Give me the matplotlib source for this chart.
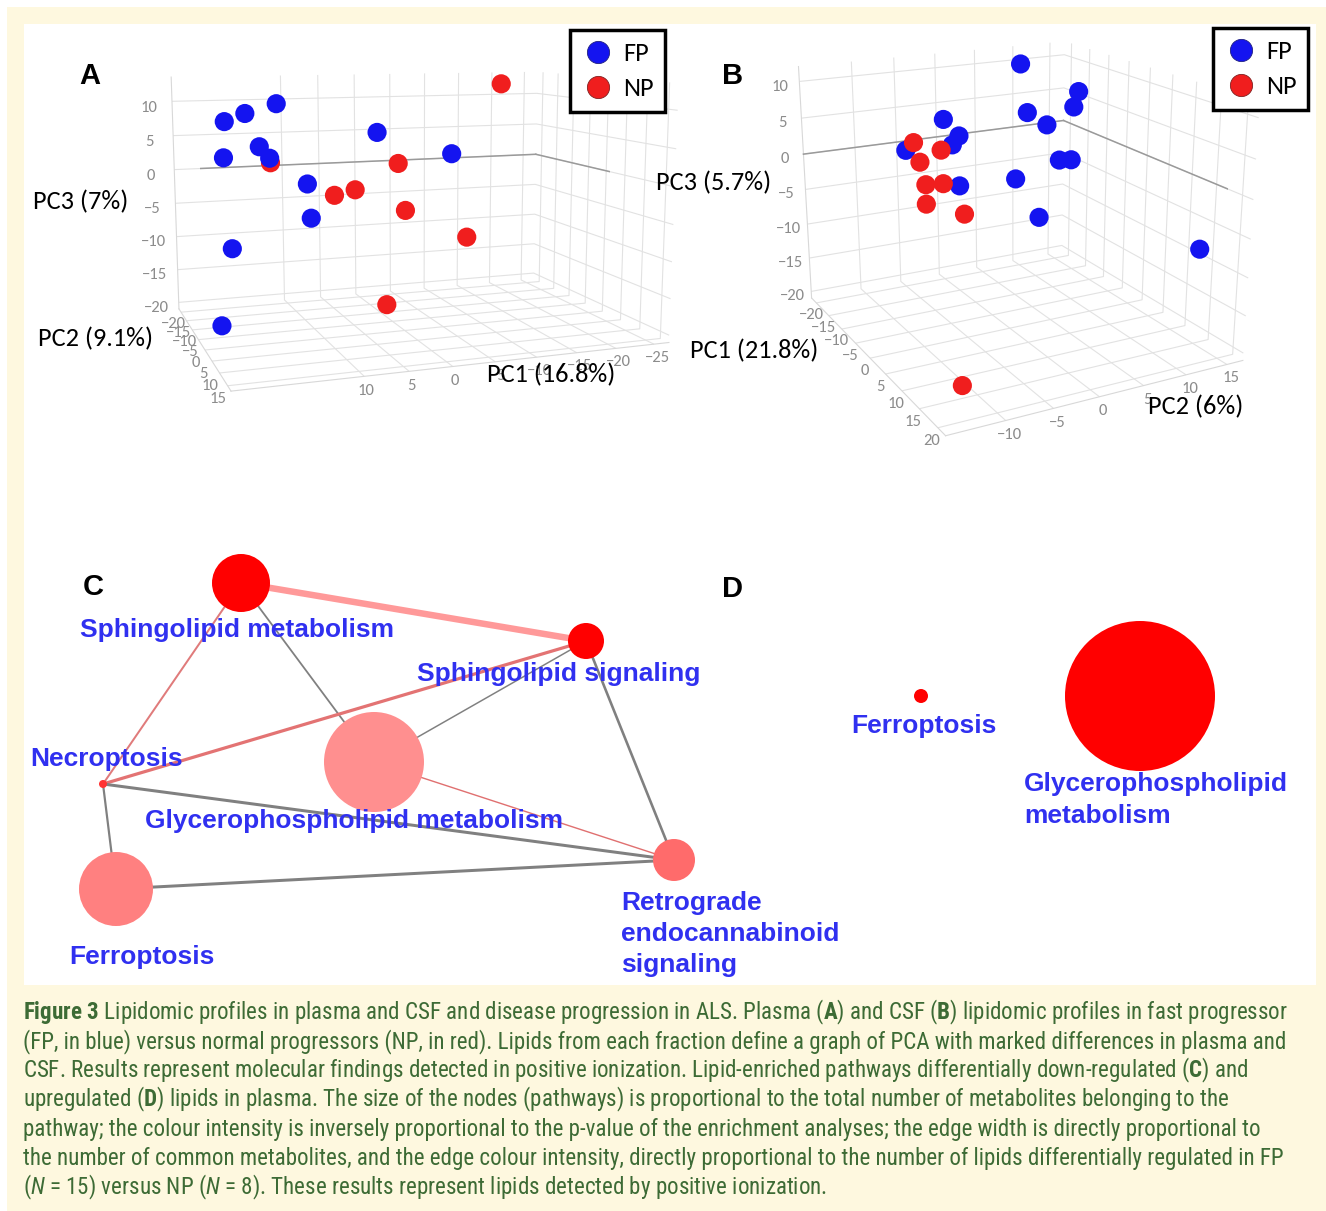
"""
Figure 3 re-draw: plasma / CSF lipidomic PCA (A, B) and enriched-pathway
networks (C, D) with the caption underneath.
"""
import matplotlib as mpl
import matplotlib.pyplot as plt
import numpy as np
from matplotlib import font_manager
from matplotlib.lines import Line2D
from matplotlib.patches import Circle, Rectangle

W, H = 1326, 1211
DPI = 100

BLUE = "#1414f0"
RED = "#f01e1e"
YELLOW = "#fef8df"
LABEL_BLUE = "#3030f0"
CAPTION_GREEN = "#3d6b35"

# ---------------- panel A: plasma PCA (PC1, PC2, PC3) ----------------
a_fp_pc1 = [20.3, 17.9, 14.2, 20.5, 16.3, 15.1, 11.8, 11.4, 1.9, -7.8, 20.6, 20.4]
a_fp_pc2 = [-5, -5, -5, -5, -5, -5, 0, 0, -5, -5, 0, -10]
a_fp_pc3 = [8.3, 9.3, 10.5, 3.5, 4.8, 3.2, 0.2, -4.4, 6.2, 2.8, -7.8, -20.8]
a_np_pc1 = [-14.4, 14.4, 8.6, 6.1, 0.8, -0.1, -8.0, 3.8]
a_np_pc2 = [-5, -8, 0, 0, 0, 0, 0, 5]
a_np_pc3 = [12.6, 2.2, -1.5, -0.9, 2.4, -4.1, -8.4, -15.7]

# ---------------- panel B: CSF PCA (PC1, PC2, PC3) ----------------
b_fp_pc1 = [-10, -10, -10, -5, -5, -10, -10, -10, -10, -5, -5, 0, 0, 0, 15]
b_fp_pc2 = [5.7, 13.1, 12.5, 4.3, 6.7, -3.6, -1.8, -2.6, -8.0, 8.3, 9.8, -5.7, 0.7, 3.5, 15.3]
b_fp_pc3 = [12.0, 7.3, 5.2, 6.6, 4.6, 5.7, 3.2, 2.1, 2.2, -0.5, -0.7, -0.3, -0.5, -6.2, -8.2]
b_np_pc1 = [-10, -5, -5, 0, 0, 0, 0, 21]
b_np_pc2 = [-7.1, -5.8, -8.2, -9.4, -7.5, -9.4, -5.2, -13.9]
b_np_pc3 = [3.1, 3.1, 1.9, 0.5, 0.3, -2.0, -4.1, -16.0]

# ---------------- panel C: down-regulated pathway network ----------------
c_names = ["Sphingolipid metabolism", "Sphingolipid signaling",
           "Glycerophospholipid metabolism", "Necroptosis", "Ferroptosis",
           "Retrograde\nendocannabinoid\nsignaling"]
c_x = [241, 586, 374, 103, 116, 674]
c_y = [583, 641, 762, 784, 889, 860]
c_radius = [29, 18, 50, 4, 37, 21]
c_color = ["#ff0000", "#ff0000", "#ff8f8f", "#ff3333", "#ff8080", "#ff6b6b"]
c_label_x = [80, 417, 145, 30, 69, 621]
c_label_y = [630, 674, 821, 759, 957, 934]
c_edges = [(0, 1), (0, 3), (0, 2), (1, 3), (1, 2), (1, 5), (2, 5), (3, 5), (3, 4), (4, 5)]
c_edge_width = [6.5, 2.0, 1.8, 3.2, 1.5, 2.6, 1.4, 3.0, 2.2, 3.0]
c_edge_color = ["#ff9999", "#e07b7b", "#808080", "#e37373", "#808080",
                "#808080", "#e07070", "#808080", "#808080", "#808080"]

# ---------------- panel D: up-regulated pathways ----------------
d_names = ["Ferroptosis", "Glycerophospholipid\nmetabolism"]
d_x = [921, 1140]
d_y = [696, 696]
d_radius = [7, 75]
d_color = ["#ff0000", "#ff0000"]
d_label_x = [851, 1024]
d_label_y = [726, 800]

caption_lines = [
    r"$\mathbf{Figure\ 3}$ Lipidomic profiles in plasma and CSF and disease progression in ALS. Plasma ($\mathbf{A}$) and CSF ($\mathbf{B}$) lipidomic profiles in fast progressor",
    "(FP, in blue) versus normal progressors (NP, in red). Lipids from each fraction define a graph of PCA with marked differences in plasma and",
    r"CSF. Results represent molecular findings detected in positive ionization. Lipid-enriched pathways differentially down-regulated ($\mathbf{C}$) and",
    r"upregulated ($\mathbf{D}$) lipids in plasma. The size of the nodes (pathways) is proportional to the total number of metabolites belonging to the",
    "pathway; the colour intensity is inversely proportional to the p-value of the enrichment analyses; the edge width is directly proportional to",
    "the number of common metabolites, and the edge colour intensity, directly proportional to the number of lipids differentially regulated in FP",
    r"($N$ = 15) versus NP ($N$ = 8). These results represent lipids detected by positive ionization.",
]


def pick_font(cands):
    have = {f.name for f in font_manager.fontManager.ttflist}
    for c in cands:
        if c in have:
            return c
    return "DejaVu Sans"


ARIAL = pick_font(["Liberation Sans", "Arial", "DejaVu Sans"])
PLOTLY = pick_font(["Carlito", "Open Sans", "Lato", "DejaVu Sans"])
CAPTION = pick_font(["Liberation Sans Narrow", "Roboto Condensed", "Open Sans Condensed",
                     "Noto Sans Condensed", "Lato", "Liberation Sans"])

mpl.rcParams["mathtext.fontset"] = "custom"
mpl.rcParams["mathtext.rm"] = CAPTION
mpl.rcParams["mathtext.bf"] = CAPTION + ":bold"
mpl.rcParams["mathtext.it"] = CAPTION + ":italic"
mpl.rcParams["grid.color"] = "#e2e2e2"
mpl.rcParams["grid.linewidth"] = 0.8


def fbox(x0, y0, x1, y1):
    # pixel box (top-left origin) -> figure fraction rect
    return [x0 / W, 1 - y1 / H, (x1 - x0) / W, (y1 - y0) / H]


def fxy(x, y):
    return x / W, 1 - y / H


fig = plt.figure(figsize=(W / DPI, H / DPI), dpi=DPI, facecolor="white")
fig.patches.append(Rectangle((7 / W, 0), 1 - 7 / W, 1 - 7 / H, transform=fig.transFigure,
                             facecolor=YELLOW, edgecolor="none", zorder=-3))
x0, y0, w0, h0 = fbox(24, 24, 1316, 985)
fig.patches.append(Rectangle((x0, y0), w0, h0, transform=fig.transFigure,
                             facecolor="white", edgecolor="none", zorder=-2))


def pca_panel(rect, fp, nps, lims, ticks, view, aspect, zoom, zside="default", focal=1.0):
    ax = fig.add_axes(rect, projection="3d")
    ax.set_facecolor("none")
    ax.patch.set_alpha(0)
    ax.set_proj_type("persp", focal_length=focal)
    for axis in (ax.xaxis, ax.yaxis, ax.zaxis):
        axis.set_pane_color((1, 1, 1, 0))
        axis.pane.set_edgecolor("#e2e2e2")
        axis.line.set_color("#d8d8d8")
        axis._axinfo["tick"]["inward_factor"] = 0.0
        axis._axinfo["tick"]["outward_factor"] = 0.0
    for pts, col in [(fp, BLUE), (nps, RED)]:
        sc = ax.scatter(*pts, s=190, c=col, depthshade=False, edgecolors="none")
        sc.set_clip_on(False)
    ax.set_xticks(ticks[0])
    ax.set_yticks(ticks[1])
    ax.set_zticks(ticks[2])
    for a in "xyz":
        ax.tick_params(axis=a, colors="#8c8c8c", labelsize=12, pad=-5 if a != "z" else 0)
    for lab in ax.get_xticklabels() + ax.get_yticklabels() + ax.get_zticklabels():
        lab.set_fontfamily(PLOTLY)
    ax.zaxis.set_ticks_position(zside)
    ax.view_init(elev=view[0], azim=view[1])
    ax.set_box_aspect(aspect, zoom=zoom)
    # darker zero line of PC3 on the two back walls
    az = np.radians(view[1])
    bx = lims[0][0] if np.cos(az) > 0 else lims[0][1]
    by = lims[1][0] if np.sin(az) > 0 else lims[1][1]
    ax.plot(lims[0], [by, by], [0, 0], color="#9a9a9a", lw=1.1, zorder=0)
    ax.plot([bx, bx], lims[1], [0, 0], color="#9a9a9a", lw=1.1, zorder=0)
    ax.set_xlim(*lims[0])
    ax.set_ylim(*lims[1])
    ax.set_zlim(*lims[2])
    return ax


pca_panel(fbox(107, 5, 702, 415),
          (a_fp_pc1, a_fp_pc2, a_fp_pc3), (a_np_pc1, a_np_pc2, a_np_pc3),
          [(-27, 24), (-22, 17), (-21, 13.5)],
          [range(-25, 15, 5), range(-20, 20, 5), range(-20, 15, 5)],
          (9, 70), (1.45, 1.0, 0.85), 1.35, focal=0.5)

pca_panel(fbox(723, -5, 1293, 435),
          (b_fp_pc1, b_fp_pc2, b_fp_pc3), (b_np_pc1, b_np_pc2, b_np_pc3),
          [(-22, 22), (-16, 17), (-21, 12)],
          [range(-20, 25, 5), range(-10, 20, 5), range(-20, 15, 5)],
          (18, -28), (1.1, 1.0, 0.81), 1.185, zside="lower", focal=0.5)

# axis titles of the PCA panels
pca_titles = [("PC3 (7%)", 33, 202), ("PC2 (9.1%)", 38, 339), ("PC1 (16.8%)", 487, 375),
              ("PC3 (5.7%)", 656, 183), ("PC1 (21.8%)", 690, 351), ("PC2 (6%)", 1148, 407)]
for txt, px, py in pca_titles:
    fig.text(*fxy(px, py), txt, ha="left", va="center", fontsize=19, family=PLOTLY, color="black")

# legends
handles = [Line2D([], [], ls="none", marker="o", ms=16, mfc=BLUE, mec="#202080", mew=0.6),
           Line2D([], [], ls="none", marker="o", ms=16, mfc=RED, mec="#802020", mew=0.6)]
for lx, ly in [(570, 30), (1213, 28)]:
    leg = fig.legend(handles, ["FP", "NP"], loc="upper left", bbox_to_anchor=fxy(lx, ly),
                     frameon=True, fancybox=False, edgecolor="black", framealpha=1,
                     prop={"family": PLOTLY, "size": 19}, handletextpad=0.35,
                     borderpad=0.45, labelspacing=0.45, handlelength=1.2, borderaxespad=0)
    leg.get_frame().set_linewidth(2.5)

# ---------------- networks C and D ----------------
net = fig.add_axes(fbox(24, 500, 1316, 985))
net.set_xlim(24, 1316)
net.set_ylim(985, 500)
net.axis("off")

for (i, j), lw, col in zip(c_edges, c_edge_width, c_edge_color):
    net.plot([c_x[i], c_x[j]], [c_y[i], c_y[j]], color=col, lw=lw * 0.72,
             solid_capstyle="butt", zorder=1)

for xs, ys, rs, cs in [(c_x, c_y, c_radius, c_color), (d_x, d_y, d_radius, d_color)]:
    for x, y, r, c in zip(xs, ys, rs, cs):
        net.add_patch(Circle((x, y), r, facecolor=c, edgecolor="none", zorder=2))

for names, lx, ly in [(c_names, c_label_x, c_label_y), (d_names, d_label_x, d_label_y)]:
    for name, x, y in zip(names, lx, ly):
        net.text(x, y, name, ha="left", va="center", fontsize=19, fontweight="bold",
                 family=ARIAL, color=LABEL_BLUE, linespacing=1.38, zorder=3)

for letter, px, py in [("A", 90, 76), ("B", 733, 76), ("C", 93, 587), ("D", 733, 589)]:
    fig.text(*fxy(px, py), letter, ha="center", va="center", fontsize=21,
             fontweight="bold", family=ARIAL, color="black")

# ---------------- caption ----------------
renderer = fig.canvas.get_renderer()
probe = fig.text(0, 0, caption_lines[0], fontsize=14, family=CAPTION)
probe_w = probe.get_window_extent(renderer).width
probe.remove()
cap_size = 14 * 1269 / probe_w

for k, line in enumerate(caption_lines):
    fig.text(*fxy(23, 1012 + k * 29.3), line, ha="left", va="center", fontsize=cap_size,
             family=CAPTION, color=CAPTION_GREEN)

fig.savefig("out.png", dpi=DPI, facecolor=fig.get_facecolor())
